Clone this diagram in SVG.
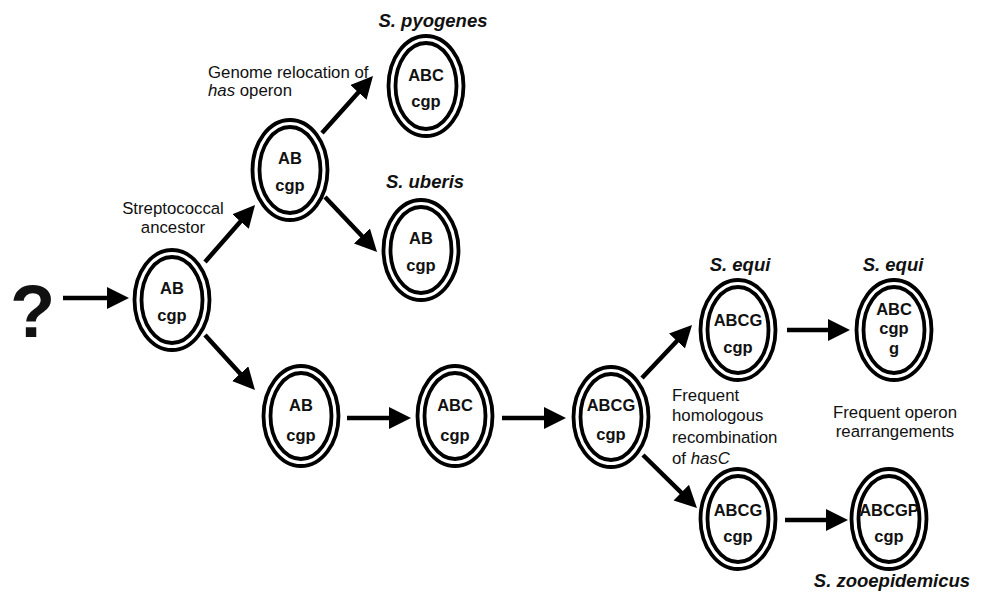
<svg xmlns="http://www.w3.org/2000/svg" width="989" height="592" viewBox="0 0 989 592">
<style>
.o{fill:none;stroke:#000;stroke-width:3.8}
.i{fill:none;stroke:#000;stroke-width:3.8}
.nt{font-family:"Liberation Sans",Arial,sans-serif;font-weight:bold;font-size:16.5px;text-anchor:middle;fill:#111}
.lb{font-family:"Liberation Sans",Arial,sans-serif;font-size:16.8px;fill:#111}
.sp{font-family:"Liberation Sans",Arial,sans-serif;font-size:18.5px;font-weight:bold;font-style:italic;text-anchor:middle;fill:#111}
.c{stroke:#000;stroke-width:4.5;fill:none;marker-end:url(#ah)}
</style>
<defs>
<marker id="ah" markerUnits="userSpaceOnUse" markerWidth="24" markerHeight="24" refX="10" refY="11" orient="auto">
<path d="M0,0 L22,11 L0,22 z" fill="#000"/>
</marker>
<g id="dbl">
<ellipse class="o" cx="0" cy="0" rx="37.5" ry="50"/>
<ellipse class="i" cx="0" cy="0" rx="30.5" ry="43"/>
</g>
</defs>
<rect width="989" height="592" fill="#fff"/>

<g id="connectors">
<line class="c" x1="63" y1="298" x2="117" y2="298"/>
<line class="c" x1="205" y1="262" x2="247.1" y2="214"/>
<line class="c" x1="205" y1="335" x2="246.9" y2="381.1"/>
<line class="c" x1="322" y1="133" x2="365" y2="84.9"/>
<line class="c" x1="325" y1="197" x2="368.8" y2="243.3"/>
<line class="c" x1="347" y1="418" x2="399" y2="418"/>
<line class="c" x1="502" y1="418" x2="554" y2="418"/>
<line class="c" x1="642" y1="378" x2="683.8" y2="333.7"/>
<line class="c" x1="643" y1="455" x2="688.4" y2="499.6"/>
<line class="c" x1="787" y1="330" x2="838" y2="330"/>
<line class="c" x1="785" y1="520" x2="836" y2="520"/>
</g>

<g id="question">
<text x="32.5" y="337" font-family="'Liberation Sans',Arial,sans-serif" font-weight="bold" font-size="74" text-anchor="middle" fill="#111">?</text>
</g>

<g id="n1">
<use href="#dbl" x="172" y="300"/>
<text class="nt" x="172" y="294">AB</text>
<text class="nt" x="172" y="321">cgp</text>
<text class="lb" x="173" y="214" text-anchor="middle">Streptococcal</text>
<text class="lb" x="173" y="233" text-anchor="middle">ancestor</text>
</g>

<g id="n2">
<use href="#dbl" x="290" y="170"/>
<text class="nt" x="290" y="164">AB</text>
<text class="nt" x="290" y="191">cgp</text>
<text class="lb" x="208" y="78">Genome relocation of</text>
<text class="lb" x="208" y="96"><tspan font-style="italic">has</tspan> operon</text>
</g>

<g id="n3">
<use href="#dbl" x="426" y="86"/>
<text class="nt" x="426" y="81">ABC</text>
<text class="nt" x="426" y="107">cgp</text>
<text class="sp" x="433" y="27">S. pyogenes</text>
</g>

<g id="n4">
<use href="#dbl" x="421" y="250"/>
<text class="nt" x="421" y="244">AB</text>
<text class="nt" x="421" y="271">cgp</text>
<text class="sp" x="425" y="188">S. uberis</text>
</g>

<g id="n5">
<use href="#dbl" x="301" y="416"/>
<text class="nt" x="301" y="411">AB</text>
<text class="nt" x="301" y="441">cgp</text>
</g>

<g id="n6">
<use href="#dbl" x="455" y="416"/>
<text class="nt" x="455" y="411">ABC</text>
<text class="nt" x="455" y="441">cgp</text>
</g>

<g id="n7">
<use href="#dbl" x="611" y="417"/>
<text class="nt" x="611" y="411">ABCG</text>
<text class="nt" x="611" y="440">cgp</text>
<text class="lb" x="672" y="401">Frequent</text>
<text class="lb" x="672" y="421">homologous</text>
<text class="lb" x="672" y="443">recombination</text>
<text class="lb" x="672" y="464">of <tspan font-style="italic">hasC</tspan></text>
</g>

<g id="n8">
<use href="#dbl" x="738" y="330"/>
<text class="nt" x="738" y="326">ABCG</text>
<text class="nt" x="738" y="353">cgp</text>
<text class="sp" x="740" y="271">S. equi</text>
</g>

<g id="n9">
<use href="#dbl" x="894" y="330"/>
<text class="nt" x="894" y="315">ABC</text>
<text class="nt" x="894" y="334">cgp</text>
<text class="nt" x="894" y="354">g</text>
<text class="sp" x="893" y="271">S. equi</text>
<text class="lb" x="895" y="418" text-anchor="middle">Frequent operon</text>
<text class="lb" x="895" y="437" text-anchor="middle">rearrangements</text>
</g>

<g id="n10">
<use href="#dbl" x="738" y="519"/>
<text class="nt" x="738" y="516">ABCG</text>
<text class="nt" x="738" y="542">cgp</text>
</g>

<g id="n11">
<use href="#dbl" x="889" y="519"/>
<text class="nt" x="889" y="516">ABCGP</text>
<text class="nt" x="889" y="542">cgp</text>
<text class="sp" x="892" y="587">S. zooepidemicus</text>
</g>
</svg>
